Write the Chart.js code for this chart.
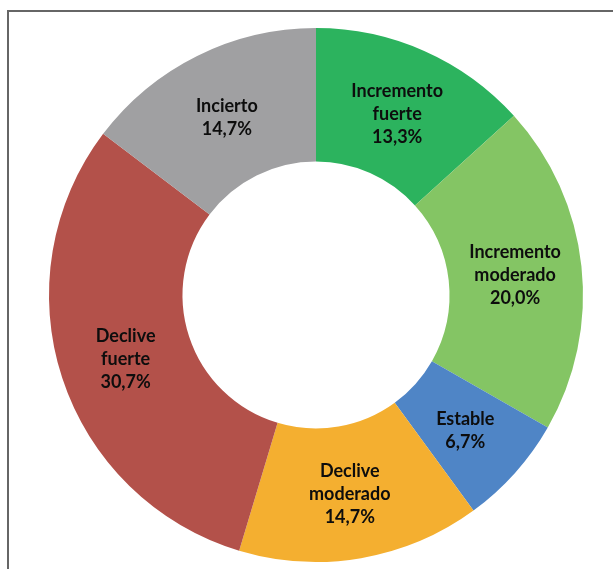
<!DOCTYPE html>
<html>
<head>
<meta charset="utf-8">
<script src="https://cdn.jsdelivr.net/npm/chart.js@4"></script>
<style>
  html, body { margin: 0; padding: 0; background: #ffffff; overflow: hidden; }
  #frame {
    position: absolute; left: 7px; top: 10px;
    width: 700px; height: 700px;
    border: 2px solid #666666;
  }
  #wrap { position: absolute; left: 0; top: 0; width: 613px; height: 569px; }
</style>
</head>
<body>
<div id="frame"></div>
<div id="wrap"><canvas id="donut" width="613" height="569"></canvas></div>
<script>
// Data
const categories = [
    ['Incremento', 'fuerte'],
    ['Incremento', 'moderado'],
    ['Estable'],
    ['Declive', 'moderado'],
    ['Declive', 'fuerte'],
    ['Incierto']
];
const shares = [13.3, 20.0, 6.7, 14.7, 30.7, 14.7];
const sliceColors = ['#2cb35e', '#84c564', '#4f85c6', '#f4af30', '#b3514a', '#a0a0a2'];

// Labels drawn in the middle of each slice
const sliceLabels = {
    id: 'sliceLabels',
    afterDatasetsDraw(chart) {
        const ctx = chart.ctx;
        const meta = chart.getDatasetMeta(0);
        ctx.save();
        ctx.font = 'bold 18px Lato, "Open Sans", sans-serif';
        ctx.fillStyle = '#0d0d0d';
        ctx.textAlign = 'center';
        ctx.textBaseline = 'middle';
        const lineH = 23;
        meta.data.forEach((arc, i) => {
            const pos = arc.tooltipPosition();
            const lines = categories[i].concat([shares[i].toFixed(1).replace('.', ',') + '%']);
            const top = pos.y + 2 - (lines.length - 1) * lineH / 2;
            lines.forEach((txt, k) => ctx.fillText(txt, pos.x, top + k * lineH));
        });
        ctx.restore();
    }
};

const ctx = document.getElementById('donut').getContext('2d');
new Chart(ctx, {
    type: 'doughnut',
    data: {
        labels: categories.map(c => c.join(' ')),
        datasets: [{
            data: shares,
            backgroundColor: sliceColors,
            borderWidth: 0
        }]
    },
    options: {
        responsive: false,
        animation: false,
        cutout: '50%',
        layout: { padding: { left: 49, right: 30, top: 28, bottom: 7 } },
        plugins: {
            legend: { display: false },
            tooltip: { enabled: false }
        }
    },
    plugins: [sliceLabels]
});
</script>
</body>
</html>
